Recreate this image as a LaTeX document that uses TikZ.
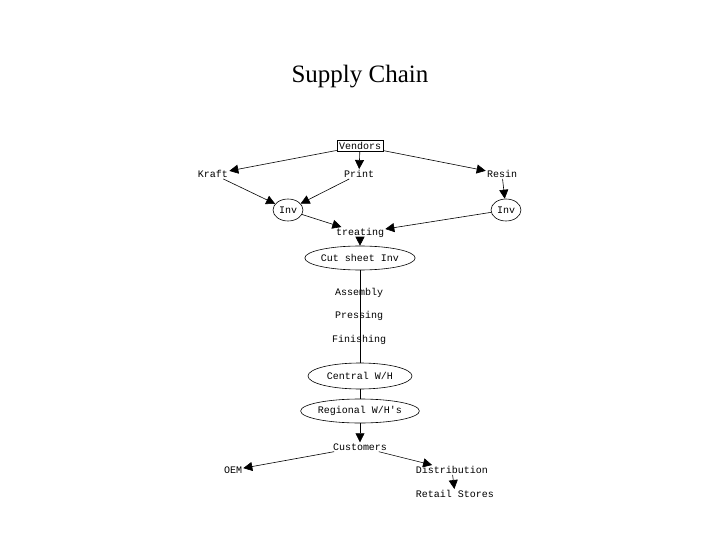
\documentclass[tikz,border=0pt]{standalone}
\usepackage{fontspec}
\newfontfamily\monofont{Liberation Mono}
\newfontfamily\titlefont{Liberation Serif}
\usetikzlibrary{shapes.geometric,arrows.meta}
\tikzstyle{every node}=[font=\monofont\fontsize{10}{12}\selectfont,inner sep=1pt]
\tikzstyle{every path}=[line width=0.6pt]
\tikzstyle{flow}=[-{Triangle[length=9pt,width=9pt]}]
\tikzstyle{store}=[draw,ellipse,inner sep=0pt]

\begin{document}
\begin{tikzpicture}[x=1pt,y=-1pt]
    \useasboundingbox (0,0) rectangle (720,540);
    \node[font=\titlefont\fontsize{25}{30}\selectfont] (title) at (360,77) {Supply Chain};

    % Sources
    \node[draw,inner sep=2pt] (vendors) at (360,146) {Vendors};
    \node (kraft) at (213,174) {Kraft};
    \node (print) at (359,174) {Print};
    \node (resin) at (502,174) {Resin};
    \node[store,minimum width=30pt,minimum height=22pt] (invL) at (288,210) {Inv};
    \node[store,minimum width=30pt,minimum height=22pt] (invR) at (506,210) {Inv};
    \node (treating) at (360,233) {treating};
    \node[store,minimum width=106pt,minimum height=24pt] (cutsheet) at (360,258) {Cut sheet Inv};

    % Process
    \node (assembly) at (359,293) {Assembly};
    \node (pressing) at (359,316) {Pressing};
    \node (finishing) at (359,340) {Finishing};
    \node[store,minimum width=104pt,minimum height=26pt] (central) at (360,376) {Central W/H};
    \node[store,minimum width=106pt,minimum height=24pt] (regional) at (360,411) {Regional W/H's};

    % Outlets
    \node (customers) at (360,447) {Customers};
    \node (oem) at (233,470) {OEM};
    \node (distribution) at (452,470) {Distribution};
    \node (retail) at (455,494) {Retail Stores};

    % Connections
    \draw[flow] (vendors) -- (kraft);
    \draw[flow] (vendors) -- (print);
    \draw[flow] (vendors) -- (resin);
    \draw[flow] (kraft) -- (invL);
    \draw[flow] (print) -- (invL);
    \draw[flow] (resin) -- (invR);
    \draw[flow] (invL) -- (treating);
    \draw[flow] (invR) -- (treating);
    \draw[flow] (treating) -- (cutsheet);
    \draw (cutsheet.south) -- (central.north);
    \draw (central) -- (regional);
    \draw[flow] (regional) -- (customers);
    \draw[flow] (customers) -- (oem);
    \draw[flow] (customers) -- (distribution);
    \draw[flow] (distribution) -- (retail);
\end{tikzpicture}
\end{document}
